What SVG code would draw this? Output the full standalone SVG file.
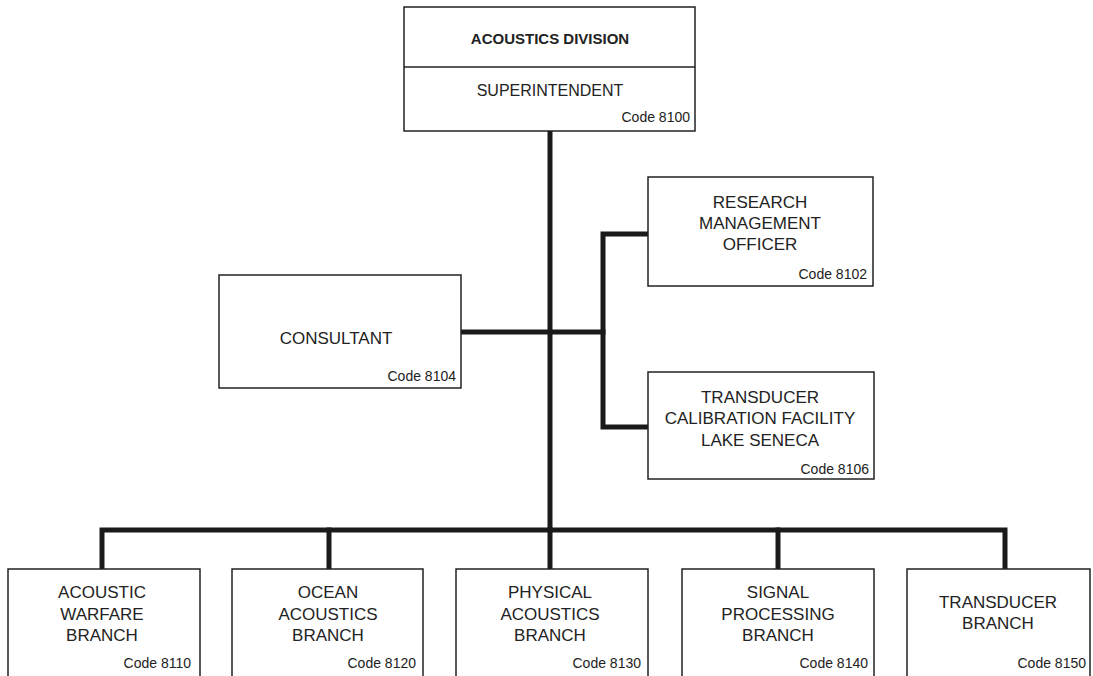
<svg xmlns="http://www.w3.org/2000/svg" width="1093" height="676" viewBox="0 0 1093 676">
<style>
.box{fill:#fff;stroke:#222;stroke-width:1.5}
.t{font-family:"Liberation Sans",Arial,sans-serif;font-size:17px;fill:#222;text-anchor:middle}
.b{font-weight:bold;font-size:15px}
.c{font-family:"Liberation Sans",Arial,sans-serif;font-size:14px;fill:#222;text-anchor:end}
.ln{fill:none;stroke:#1a1a1a;stroke-width:5;stroke-linejoin:miter;stroke-linecap:square}
</style>
<rect width="1093" height="676" fill="#fff"/>
<g id="connectors">
<path class="ln" d="M550 131 V530"/>
<path class="ln" d="M461 332 H603"/>
<path class="ln" d="M648 234 H603 V427 H648"/>
<path class="ln" d="M102 569 V530 H1005 V569"/>
<path class="ln" d="M329 530 V569"/>
<path class="ln" d="M550 530 V569"/>
<path class="ln" d="M778 530 V569"/>
</g>
<g id="n8100">
<rect class="box" x="404" y="7" width="291" height="124"/>
<line class="box" x1="404" y1="67" x2="695" y2="67"/>
<text class="t b" x="550" y="44">ACOUSTICS DIVISION</text>
<text class="t" x="550" y="96" style="font-size:16px">SUPERINTENDENT</text>
<text class="c" x="690" y="122">Code 8100</text>
</g>
<g id="n8102">
<rect class="box" x="648" y="177" width="225" height="109"/>
<text class="t" x="760" y="208">RESEARCH</text>
<text class="t" x="760" y="229">MANAGEMENT</text>
<text class="t" x="760" y="250">OFFICER</text>
<text class="c" x="867" y="279">Code 8102</text>
</g>
<g id="n8104">
<rect class="box" x="219" y="275" width="242" height="113"/>
<text class="t" x="336" y="344">CONSULTANT</text>
<text class="c" x="456" y="381">Code 8104</text>
</g>
<g id="n8106">
<rect class="box" x="648" y="372" width="226" height="107"/>
<text class="t" x="760" y="403">TRANSDUCER</text>
<text class="t" x="760" y="424">CALIBRATION FACILITY</text>
<text class="t" x="760" y="446">LAKE SENECA</text>
<text class="c" x="869" y="474">Code 8106</text>
</g>
<g id="n8110">
<rect class="box" x="8" y="569" width="192" height="110"/>
<text class="t" x="102" y="598">ACOUSTIC</text>
<text class="t" x="102" y="620">WARFARE</text>
<text class="t" x="102" y="641">BRANCH</text>
<text class="c" x="191" y="668">Code 8110</text>
</g>
<g id="n8120">
<rect class="box" x="232" y="569" width="191" height="110"/>
<text class="t" x="328" y="598">OCEAN</text>
<text class="t" x="328" y="620">ACOUSTICS</text>
<text class="t" x="328" y="641">BRANCH</text>
<text class="c" x="416" y="668">Code 8120</text>
</g>
<g id="n8130">
<rect class="box" x="456" y="569" width="192" height="110"/>
<text class="t" x="550" y="598">PHYSICAL</text>
<text class="t" x="550" y="620">ACOUSTICS</text>
<text class="t" x="550" y="641">BRANCH</text>
<text class="c" x="641" y="668">Code 8130</text>
</g>
<g id="n8140">
<rect class="box" x="682" y="569" width="192" height="110"/>
<text class="t" x="778" y="598">SIGNAL</text>
<text class="t" x="778" y="620">PROCESSING</text>
<text class="t" x="778" y="641">BRANCH</text>
<text class="c" x="868" y="668">Code 8140</text>
</g>
<g id="n8150">
<rect class="box" x="907" y="569" width="183" height="110"/>
<text class="t" x="998" y="608">TRANSDUCER</text>
<text class="t" x="998" y="629">BRANCH</text>
<text class="c" x="1086" y="668">Code 8150</text>
</g>
</svg>
